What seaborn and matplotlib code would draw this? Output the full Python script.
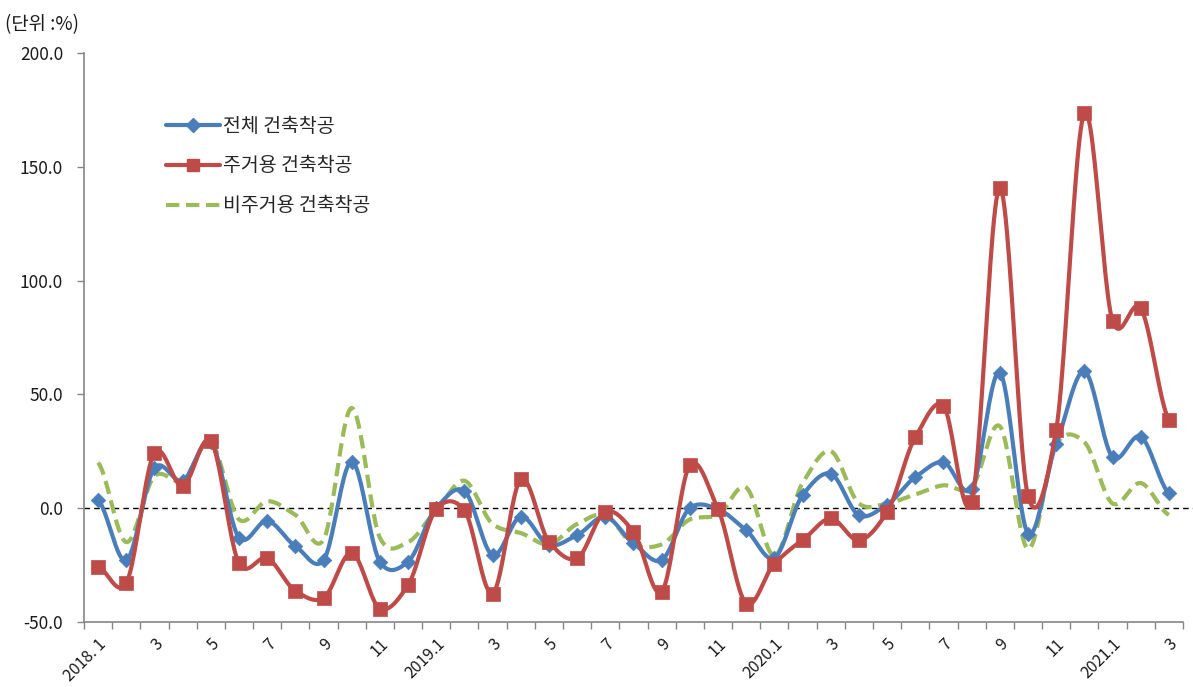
import numpy as np
import pandas as pd
import matplotlib
matplotlib.use("Agg")
import matplotlib.pyplot as plt
from matplotlib.lines import Line2D
import seaborn as sns

# Monthly year-on-year change of building construction starts (%), 2018.1 - 2021.3
months = [f"{y}.{m}" for y in (2018, 2019, 2020) for m in range(1, 13)] + ["2021.1", "2021.2", "2021.3"]

total = [3.5, -23.0, 17.6, 12.0, 29.0, -13.0, -5.6, -16.7, -23.0, 20.4, -23.6, -23.6,
         0.0, 7.5, -20.7, -3.8, -16.3, -11.9, -3.8, -15.5, -22.9, 0.0, -0.5, -9.8,
         -22.0, 5.6, 15.1, -3.2, 1.5, 13.6, 20.2, 8.5, 59.6, -11.2, 28.2, 60.1,
         22.4, 31.4, 6.6]

residential = [-25.8, -33.0, 24.3, 9.7, 29.5, -24.2, -22.0, -36.4, -39.6, -19.7, -44.2, -33.9,
               -0.5, -1.0, -37.6, 12.6, -14.8, -22.1, -1.6, -10.4, -36.8, 18.9, -0.5, -42.0,
               -24.4, -14.1, -4.6, -14.2, -1.8, 31.1, 45.0, 2.6, 140.8, 5.3, 34.4, 173.7,
               82.3, 87.9, 38.8]

non_residential = [20.0, -15.0, 14.0, 12.0, 29.0, -5.0, 3.0, -3.0, -14.0, 44.0, -13.0, -15.0,
                   -1.0, 12.0, -7.0, -11.0, -16.0, -7.0, -3.0, -16.0, -16.0, -5.0, -3.0, 9.0,
                   -21.0, 11.0, 25.0, 2.0, 2.0, 6.0, 10.0, 9.0, 36.0, -18.0, 28.0, 29.0,
                   2.0, 11.0, -3.0]

series_names = ["전체 건축착공", "주거용 건축착공", "비주거용 건축착공"]

tick_labels = ["2018. 1", "3", "5", "7", "9", "11",
               "2019.1", "3", "5", "7", "9", "11",
               "2020.1", "3", "5", "7", "9", "11",
               "2021.1", "3"]

BLUE = "#4A7EBB"
RED = "#BE4B48"
GREEN = "#9BBB59"
TEXT = "#1a1a1a"


def smooth(values, steps=24, tension=0.85):
    """Cardinal-spline curve through the monthly values (smoothed-line look)."""
    p = np.asarray(values, dtype=float)
    n = len(p)
    x = np.arange(n, dtype=float)
    # tangents from neighbouring points
    m = np.zeros(n)
    m[1:-1] = (p[2:] - p[:-2]) / 2.0
    m[0] = (p[1] - p[0]) / 2.0
    m[-1] = (p[-1] - p[-2]) / 2.0
    m *= tension
    t = np.linspace(0, 1, steps, endpoint=False)
    h00 = 2 * t ** 3 - 3 * t ** 2 + 1
    h10 = t ** 3 - 2 * t ** 2 + t
    h01 = -2 * t ** 3 + 3 * t ** 2
    h11 = t ** 3 - t ** 2
    out_x, out_y = [], []
    for i in range(n - 1):
        out_x.extend(x[i] + t)
        out_y.extend(h00 * p[i] + h10 * m[i] + h01 * p[i + 1] + h11 * m[i + 1])
    out_x.append(x[-1])
    out_y.append(p[-1])
    return np.array(out_x), np.array(out_y)


sns.set_theme(style="white")
plt.rcParams["font.family"] = ["Noto Sans CJK KR", "DejaVu Sans"]

fig = plt.figure(figsize=(11.93, 6.87), dpi=100)
ax = fig.add_axes([0.0704, 0.095, 0.9212, 0.8275])

pos = np.arange(len(months))
df = pd.DataFrame({"pos": pos, "total": total, "res": residential, "nonres": non_residential})

# zero reference line
ax.axhline(0, xmin=0, xmax=1.01, color="black", lw=1.0, ls=(0, (4, 3)), clip_on=False, zorder=1)

# non-residential: smoothed dashed line, no markers
gx, gy = smooth(non_residential)
sns.lineplot(x=gx, y=gy, ax=ax, color=GREEN, lw=3.0, sort=False, zorder=2)
ax.lines[-1].set_dashes((3.2, 1.6))

# total: smoothed line with diamond markers
bx, by = smooth(total)
sns.lineplot(x=bx, y=by, ax=ax, color=BLUE, lw=3.0, sort=False, zorder=3)
sns.scatterplot(data=df, x="pos", y="total", ax=ax, color=BLUE, marker="D", s=55,
                edgecolor=BLUE, linewidth=0.5, zorder=4)

# residential: smoothed line with square markers
rx, ry = smooth(residential)
sns.lineplot(x=rx, y=ry, ax=ax, color=RED, lw=3.0, sort=False, zorder=5)
sns.scatterplot(data=df, x="pos", y="res", ax=ax, color=RED, marker="s", s=110,
                edgecolor=RED, linewidth=0.5, zorder=6)

# axes
ax.set_xlim(-0.5, len(months) - 0.5)
ax.set_ylim(-50, 200)
ax.set_yticks(np.arange(-50, 201, 50))
ax.set_yticklabels([f"{v:.1f}" for v in np.arange(-50, 201, 50)], fontsize=12.5, color=TEXT)
ax.set_xticks(pos[::2])
ax.set_xticklabels(tick_labels, rotation=45, ha="right", rotation_mode="anchor",
                   fontsize=11.5, color=TEXT)
ax.set_xticks(np.arange(-0.5, len(months), 1.0), minor=True)
ax.tick_params(axis="x", which="major", length=0, pad=10)
ax.tick_params(axis="x", which="minor", length=5, width=1, color="#868686", direction="out", bottom=True)
ax.tick_params(axis="y", which="major", length=5, width=1, color="#868686", direction="out", left=True, pad=10)
ax.set_xlabel("")
ax.set_ylabel("")
for side in ("top", "right"):
    ax.spines[side].set_visible(False)
for side in ("left", "bottom"):
    ax.spines[side].set_color("#868686")
    ax.spines[side].set_linewidth(1.2)

# legend
handles = [
    Line2D([0, 0.5, 1], [0, 0, 0], color=BLUE, lw=3.0, marker="D", markersize=7,
           markevery=[1], markeredgecolor=BLUE),
    Line2D([0, 0.5, 1], [0, 0, 0], color=RED, lw=3.0, marker="s", markersize=9,
           markevery=[1], markeredgecolor=RED),
    Line2D([], [], color=GREEN, lw=3.0, dashes=(3.2, 1.6)),
]
ax.legend(handles, series_names, loc="upper left", bbox_to_anchor=(0.133, 0.843),
          bbox_transform=fig.transFigure, frameon=False, fontsize=14,
          handlelength=2.75, handletextpad=0.15, labelspacing=0.97, borderaxespad=0)

fig.text(0.004, 0.98, "(단위 :%)", fontsize=13.5, color=TEXT, ha="left", va="top")

fig.savefig("out.png", dpi=100, facecolor="white")
